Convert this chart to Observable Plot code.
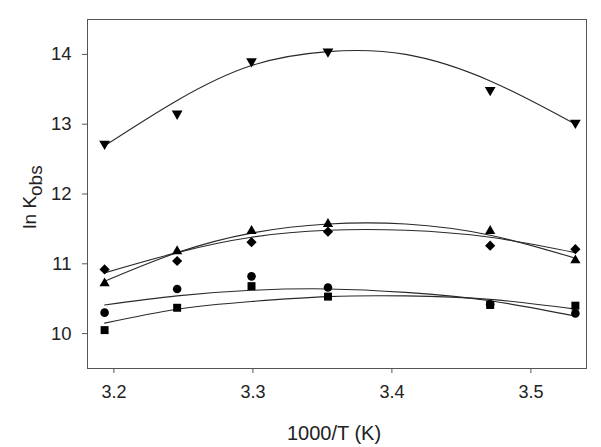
<!DOCTYPE html>
<html><head><meta charset="utf-8">
<script src="https://cdn.jsdelivr.net/npm/d3@7"></script>
<script src="https://cdn.jsdelivr.net/npm/@observablehq/plot@0.6"></script>
<style>body{margin:0;background:#fff}</style>
</head><body><div id="chart"></div>
<script>
// 1000/T values of the measurement temperatures
const invT = [3.1933, 3.2455, 3.2990, 3.3540, 3.4707, 3.5320];
// ln Kobs data per series (marker shape)
const triDown = [12.72, 13.15, 13.90, 14.04, 13.49, 13.02];
const triUp   = [10.72, 11.18, 11.47, 11.57, 11.47, 11.05];
const diamond = [10.92, 11.04, 11.31, 11.46, 11.26, 11.21];
const circle  = [10.30, 10.64, 10.82, 10.66, 10.42, 10.29];
const square  = [10.05, 10.37, 10.68, 10.53, 10.41, 10.40];

// fitted (regression) curves
const fitX       = [3.1933, 3.2455, 3.2990, 3.3540, 3.4100, 3.4707, 3.5320];
const fitTriDown = [12.69, 13.34, 13.84, 14.04, 14.00, 13.62, 13.00];
const fitTriUp   = [10.75, 11.16, 11.44, 11.57, 11.57, 11.41, 11.08];
const fitDiamond = [10.87, 11.16, 11.38, 11.48, 11.48, 11.38, 11.16];
const fitCircle  = [10.41, 10.54, 10.62, 10.64, 10.59, 10.47, 10.25];
const fitSquare  = [10.15, 10.35, 10.46, 10.53, 10.54, 10.49, 10.35];

const xTicks = [3.2, 3.3, 3.4, 3.5];
const yTicks = [10, 11, 12, 13, 14];

const pts = (ys) => invT.map((x, i) => ({x, y: ys[i]}));
const fit = (ys) => fitX.map((x, i) => ({x, y: ys[i]}));

const triangleDown = {
  draw(ctx, size) {
    const y = -Math.sqrt(size / (Math.sqrt(3) * 3));
    ctx.moveTo(0, -y * 2);
    ctx.lineTo(-Math.sqrt(3) * y, y);
    ctx.lineTo(Math.sqrt(3) * y, y);
    ctx.closePath();
  }
};

const lineOpts = {x: "x", y: "y", curve: "natural", stroke: "#2a2a2a", strokeWidth: 1.1};
const dotOpts = {x: "x", y: "y", fill: "#000", stroke: "none"};

const plot = Plot.plot({
  width: 601, height: 447,
  marginLeft: 87, marginRight: 15, marginTop: 19, marginBottom: 79,
  style: {fontFamily: "'Liberation Sans', Arial, sans-serif", fontSize: "18px", color: "#222", background: "#fff"},
  x: {domain: [3.181, 3.540]},
  y: {domain: [9.5, 14.5]},
  marks: [
    Plot.frame({stroke: "#555", strokeWidth: 1}),
    Plot.axisX({ticks: xTicks, tickFormat: d => d.toFixed(1), tickSize: 5, tickPadding: 12, label: null, stroke: "#555", fontSize: 18}),
    Plot.axisY({ticks: yTicks, tickFormat: d => String(d), tickSize: 5, tickPadding: 11, label: null, stroke: "#555", fontSize: 18.5}),
    Plot.line(fit(fitTriDown), lineOpts),
    Plot.line(fit(fitTriUp), lineOpts),
    Plot.line(fit(fitDiamond), lineOpts),
    Plot.line(fit(fitCircle), lineOpts),
    Plot.line(fit(fitSquare), lineOpts),
    Plot.dot(pts(triDown), {...dotOpts, symbol: triangleDown, r: 4.0}),
    Plot.dot(pts(triUp), {...dotOpts, symbol: "triangle", r: 3.8}),
    Plot.dot(pts(diamond), {...dotOpts, symbol: "diamond2", r: 4.6}),
    Plot.dot(pts(circle), {...dotOpts, symbol: "circle", r: 4.3}),
    Plot.dot(pts(square), {...dotOpts, symbol: "square", r: 4.5}),
    Plot.text(["1000/T (K)"], {frameAnchor: "bottom", dy: 71, dx: -3, fontSize: 20, fill: "#222"})
  ]
});

const svg = d3.select(plot);
const t = svg.append("text")
  .attr("transform", "translate(36,197) rotate(-90)")
  .attr("text-anchor", "middle")
  .attr("font-size", 19)
  .attr("fill", "#222");
t.append("tspan").text("ln K");
t.append("tspan").attr("dy", 6).text("obs");

document.getElementById("chart").appendChild(plot);
</script>
</body></html>
